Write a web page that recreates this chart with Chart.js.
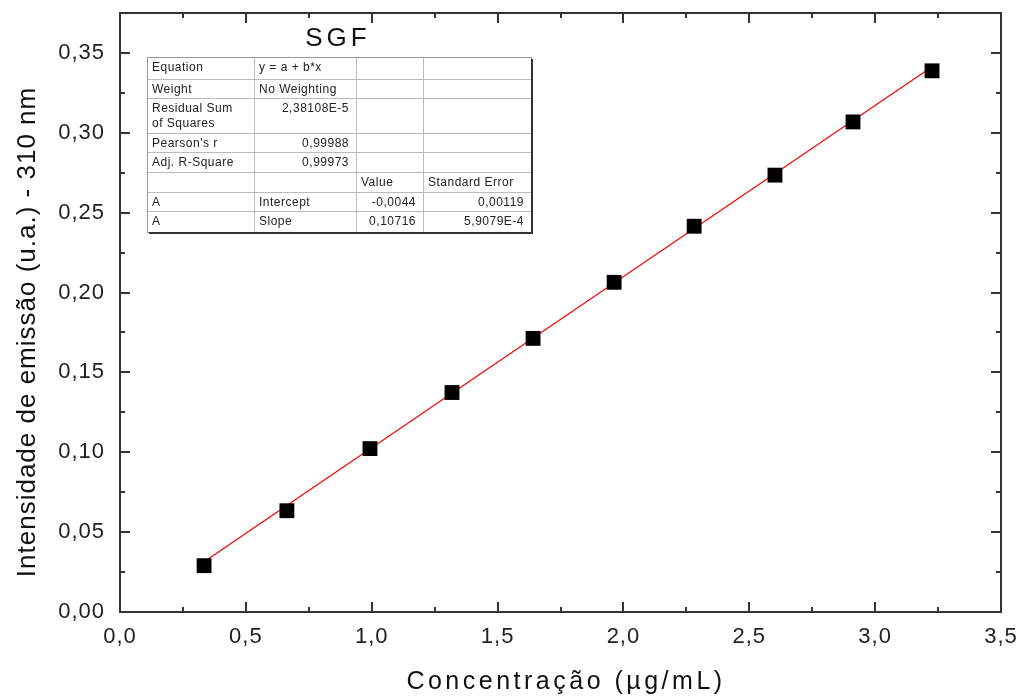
<!DOCTYPE html>
<html>
<head>
<meta charset="utf-8">
<script src="https://cdn.jsdelivr.net/npm/chart.js@4"></script>
<style>
  html, body { margin: 0; padding: 0; background: #fff; }
  #wrap { width: 1019px; height: 696px; }
</style>
</head>
<body>
<div id="wrap"><canvas id="sgf"></canvas></div>
<script>
// dados
const concentracao = [0.334, 0.663, 0.993, 1.319, 1.641, 1.963, 2.281, 2.602, 2.912, 3.226];
const intensidade = [0.029, 0.0634, 0.1023, 0.1374, 0.1713, 0.2064, 0.2415, 0.2735, 0.3068, 0.3388];
// reta ajustada (extremos)
const fitX = [0.334, 3.226];
const fitY = [0.0314, 0.3413];

const xTicks = [0, 0.5, 1, 1.5, 2, 2.5, 3, 3.5];
const yTicks = [0, 0.05, 0.10, 0.15, 0.20, 0.25, 0.30, 0.35];
const xMinor = [0.25, 0.75, 1.25, 1.75, 2.25, 2.75, 3.25];
const yMinor = [0.025, 0.075, 0.125, 0.175, 0.225, 0.275, 0.325];

const tableRows = [
    ["Equation", "y = a + b*x", "", ""],
    ["Weight", "No Weighting", "", ""],
    ["Residual Sum\nof Squares", "2,38108E-5", "", ""],
    ["Pearson's r", "0,99988", "", ""],
    ["Adj. R-Square", "0,99973", "", ""],
    ["", "", "Value", "Standard Error"],
    ["A", "Intercept", "-0,0044", "0,00119"],
    ["A", "Slope", "0,10716", "5,9079E-4"]
];

const FONT = "'Liberation Sans', Arial, sans-serif";

const pts = concentracao.map((x, i) => ({x: x, y: intensidade[i]}));
const fitLine = fitX.map((x, i) => ({x: x, y: fitY[i]}));

// ticks para dentro, moldura, titulos e tabela
const extras = {
    id: 'extras',
    beforeDraw(chart) {
        chart.ctx.letterSpacing = '1px';
    },
    afterDraw(chart) {
        const ctx = chart.ctx;
        const a = chart.chartArea;
        const xs = chart.scales.x, ys = chart.scales.y;
        ctx.save();
        ctx.letterSpacing = '0px';
        ctx.strokeStyle = '#333';
        ctx.lineWidth = 2;
        ctx.strokeRect(a.left, a.top, a.right - a.left, a.bottom - a.top);
        ctx.beginPath();
        const tick = (vals, len) => {
            vals.forEach(v => {
                const px = Math.round(xs.getPixelForValue(v));
                ctx.moveTo(px, a.bottom); ctx.lineTo(px, a.bottom - len);
                ctx.moveTo(px, a.top); ctx.lineTo(px, a.top + len);
            });
        };
        const tickY = (vals, len) => {
            vals.forEach(v => {
                const py = Math.round(ys.getPixelForValue(v));
                ctx.moveTo(a.left, py); ctx.lineTo(a.left + len, py);
                ctx.moveTo(a.right, py); ctx.lineTo(a.right - len, py);
            });
        };
        tick(xTicks.slice(1, -1), 10);
        tick(xMinor, 5);
        tickY(yTicks.slice(1), 10);
        tickY(yMinor, 5);
        ctx.stroke();

        // titulos dos eixos
        ctx.fillStyle = '#111';
        ctx.textAlign = 'center';
        ctx.textBaseline = 'middle';
        ctx.font = '25px ' + FONT;
        ctx.letterSpacing = '3.5px';
        ctx.fillText('Concentração (µg/mL)', 566, 682);
        ctx.save();
        ctx.translate(28, 332);
        ctx.rotate(-Math.PI / 2);
        ctx.font = '26px ' + FONT;
        ctx.letterSpacing = '1px';
        ctx.fillText('Intensidade de emissão (u.a.) - 310 nm', 0, 0);
        ctx.restore();

        // titulo
        ctx.font = '26px ' + FONT;
        ctx.letterSpacing = '4px';
        ctx.fillText('SGF', 338, 39);

        // tabela
        const cols = [147, 254, 356, 423, 531];
        const rows = [57, 79, 98, 133, 152, 172, 192, 211, 232];
        ctx.fillStyle = '#fff';
        ctx.fillRect(cols[0], rows[0], cols[4] - cols[0], rows[8] - rows[0]);
        ctx.strokeStyle = '#bbb';
        ctx.lineWidth = 1;
        ctx.beginPath();
        rows.slice(1, -1).forEach(r => { ctx.moveTo(cols[0], r + 0.5); ctx.lineTo(cols[4], r + 0.5); });
        cols.slice(1, -1).forEach(c => { ctx.moveTo(c + 0.5, rows[0]); ctx.lineTo(c + 0.5, rows[8]); });
        ctx.stroke();
        ctx.strokeStyle = '#999';
        ctx.strokeRect(cols[0] + 0.5, rows[0] + 0.5, cols[4] - cols[0], rows[8] - rows[0]);
        ctx.strokeStyle = '#333';
        ctx.lineWidth = 2;
        ctx.beginPath();
        ctx.moveTo(cols[0] + 2, rows[8] + 1); ctx.lineTo(cols[4] + 1, rows[8] + 1); ctx.lineTo(cols[4] + 1, rows[0] + 2);
        ctx.stroke();

        ctx.font = '12px ' + FONT;
        ctx.letterSpacing = '0.5px';
        ctx.fillStyle = '#222';
        ctx.textBaseline = 'middle';
        tableRows.forEach((row, i) => {
            const ty = rows[i] + 11;
            row.forEach((txt, j) => {
                if (!txt) return;
                const numeric = /^[-0-9]/.test(txt) && j > 0;
                const lines = txt.split('\n');
                lines.forEach((ln, k) => {
                    if (numeric) {
                        ctx.textAlign = 'right';
                        ctx.fillText(ln, cols[j + 1] - 7, ty + k * 15);
                    } else {
                        ctx.textAlign = 'left';
                        ctx.fillText(ln, cols[j] + 5, ty + k * 15);
                    }
                });
            });
        });
        ctx.restore();
    }
};

new Chart(document.getElementById('sgf'), {
    type: 'scatter',
    data: {
        datasets: [{
            label: 'SGF',
            data: pts,
            pointStyle: 'rect',
            pointRadius: 10.5,
            pointHoverRadius: 10.5,
            backgroundColor: '#000',
            borderColor: '#000',
            borderWidth: 0,
            order: 1
        }, {
            label: 'Ajuste',
            data: fitLine,
            showLine: true,
            borderColor: '#ff0000',
            borderWidth: 1.2,
            pointRadius: 0,
            order: 2
        }]
    },
    plugins: [extras],
    options: {
        responsive: true,
        maintainAspectRatio: false,
        animation: false,
        layout: {
            padding: {top: 13, right: 18, left: 0, bottom: 0}
        },
        plugins: {
            legend: {display: false},
            tooltip: {enabled: false}
        },
        scales: {
            x: {
                type: 'linear',
                min: 0,
                max: 3.5,
                afterBuildTicks: (s) => { s.ticks = xTicks.map(v => ({value: v})); },
                afterFit: (s) => {
                    s.height = 84;
                    s.paddingLeft = 0; s.paddingRight = 0;
                },
                grid: {display: false, drawTicks: false},
                border: {display: false},
                ticks: {
                    padding: 12,
                    color: '#222',
                    maxRotation: 0,
                    font: {family: FONT, size: 22},
                    callback: (v) => v.toFixed(1).replace('.', ',')
                }
            },
            y: {
                type: 'linear',
                min: 0,
                max: 0.375,
                afterBuildTicks: (s) => { s.ticks = yTicks.map(v => ({value: v})); },
                afterFit: (s) => {
                    s.width = 120;
                    s.paddingTop = 0; s.paddingBottom = 0;
                },
                grid: {display: false, drawTicks: false},
                border: {display: false},
                ticks: {
                    padding: 15,
                    color: '#222',
                    font: {family: FONT, size: 22},
                    callback: (v) => v.toFixed(2).replace('.', ',')
                }
            }
        }
    }
});
</script>
</body>
</html>
